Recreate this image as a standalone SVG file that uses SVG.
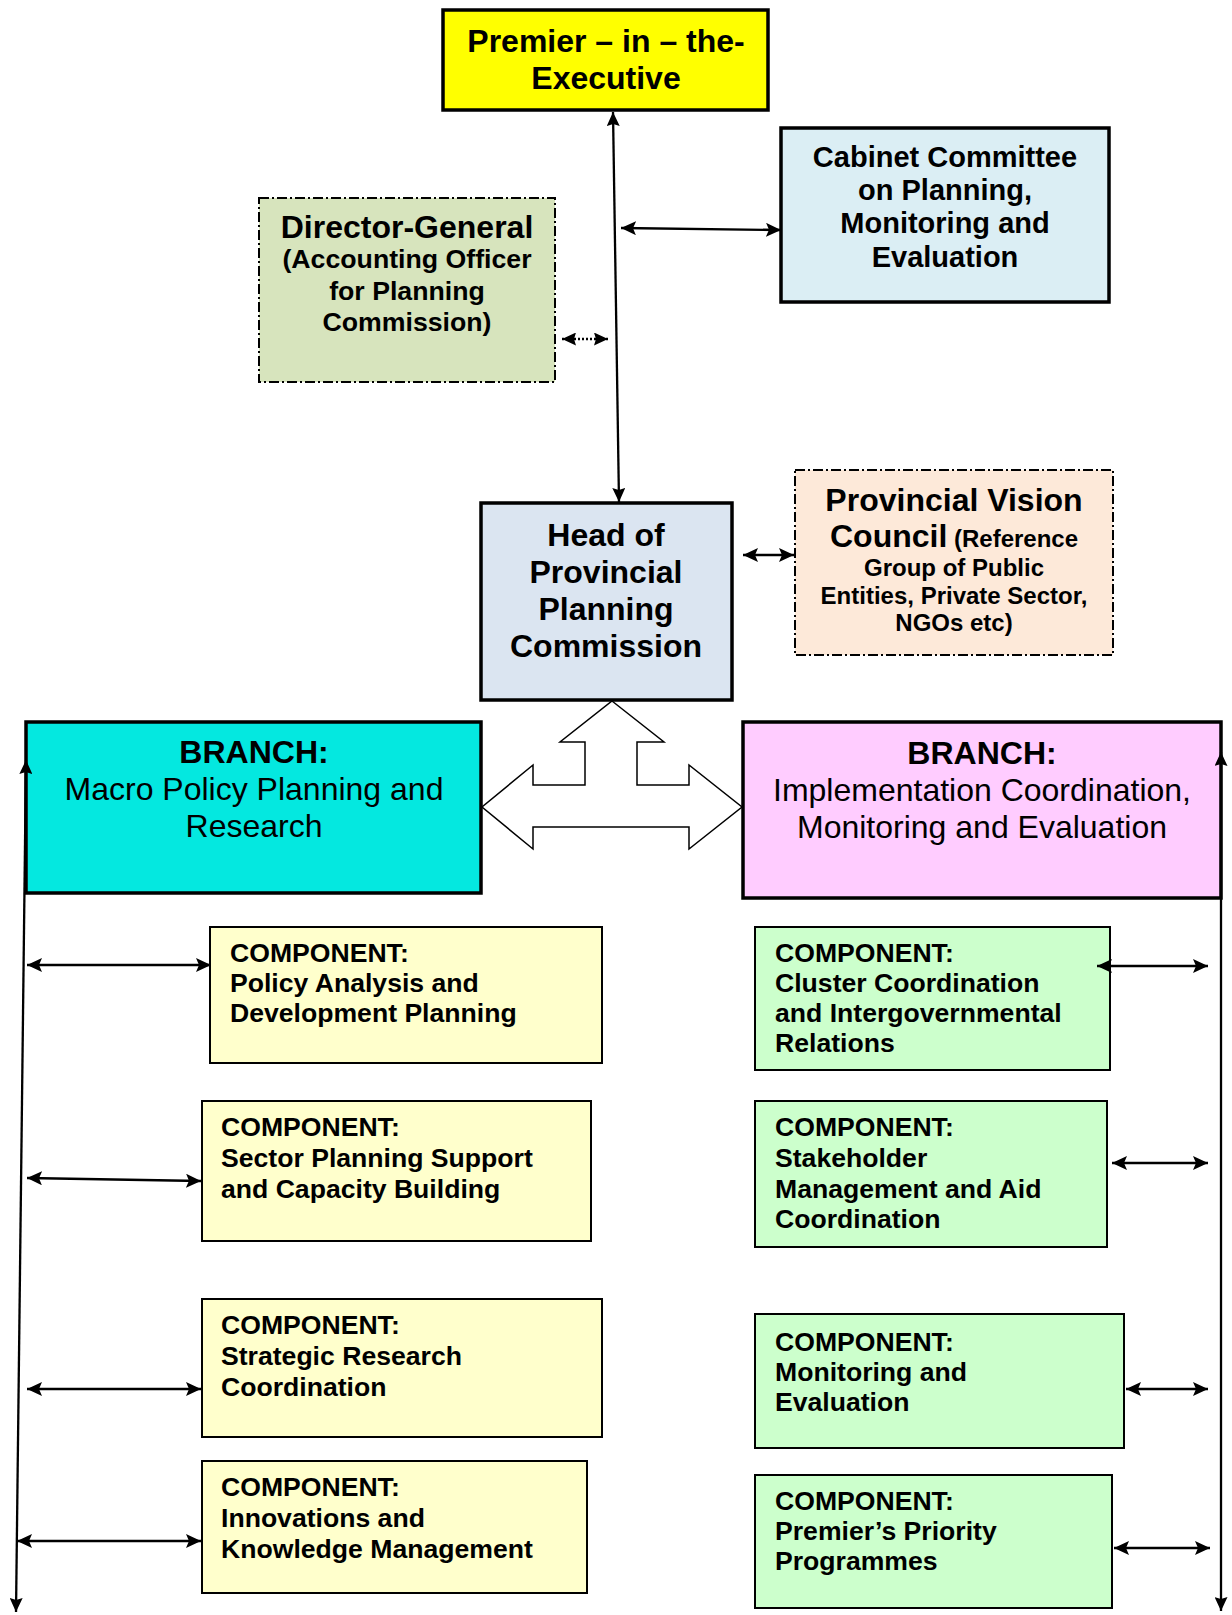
<svg xmlns="http://www.w3.org/2000/svg" width="1232" height="1615" viewBox="0 0 1232 1615">
  <style>
    .t { font-family: "Liberation Sans", Arial, sans-serif; fill: #000; }
    .b { font-weight: bold; }
    .c { text-anchor: middle; }
    .cp { font-family: "Liberation Sans", Arial, sans-serif; font-weight: bold; font-size: 26.6px; fill: #000; }
    .thick { stroke: #000; stroke-width: 3.5; }
    .thin { stroke: #000; stroke-width: 2; }
    .dash { stroke: #000; stroke-width: 2; stroke-dasharray: 10 3 2 3; }
    .ln { stroke: #000; stroke-width: 2.3; fill: none; }
  </style>
  <defs>
    <marker id="ah" viewBox="0 0 15 14" refX="15" refY="7" markerWidth="15" markerHeight="14" markerUnits="userSpaceOnUse" orient="auto-start-reverse">
      <path d="M0,0 L15,7 L0,14 L3,7 Z" fill="#000"/>
    </marker>
    <marker id="ahs" viewBox="0 0 14 13" refX="14" refY="6.5" markerWidth="14" markerHeight="13" markerUnits="userSpaceOnUse" orient="auto-start-reverse">
      <path d="M0,0 L14,6.5 L0,13 L2,6.5 Z" fill="#000"/>
    </marker>
  </defs>

  <rect width="1232" height="1615" fill="#fff"/>

  <!-- Top level -->
  <g id="premier">
    <rect x="443" y="10" width="325" height="100" fill="#ffff00" class="thick"/>
    <text class="t b c" font-size="32" x="606" y="52">Premier – in – the-</text>
    <text class="t b c" font-size="32" x="606" y="89">Executive</text>
  </g>

  <g id="cabinet">
    <rect x="781" y="128" width="328" height="174" fill="#dbeef4" class="thick"/>
    <text class="t b c" font-size="29" x="945" y="167">Cabinet Committee</text>
    <text class="t b c" font-size="29" x="945" y="200">on Planning,</text>
    <text class="t b c" font-size="29" x="945" y="233">Monitoring and</text>
    <text class="t b c" font-size="29" x="945" y="267">Evaluation</text>
  </g>

  <g id="director-general">
    <rect x="259" y="198" width="296" height="184" fill="#d7e4bd" class="dash"/>
    <text class="t b c" font-size="32" x="407" y="238">Director-General</text>
    <text class="t b c" font-size="26.7" x="407" y="268">(Accounting Officer</text>
    <text class="t b c" font-size="26.7" x="407" y="300">for Planning</text>
    <text class="t b c" font-size="26.7" x="407" y="331">Commission)</text>
  </g>

  <g id="head">
    <rect x="481" y="503" width="251" height="197" fill="#dbe5f1" class="thick"/>
    <text class="t b c" font-size="32" x="606" y="546">Head of</text>
    <text class="t b c" font-size="32" x="606" y="583">Provincial</text>
    <text class="t b c" font-size="32" x="606" y="620">Planning</text>
    <text class="t b c" font-size="32" x="606" y="657">Commission</text>
  </g>

  <g id="vision-council">
    <rect x="795" y="470" width="318" height="185" fill="#fde9d9" class="dash"/>
    <text class="t b c" font-size="32" x="954" y="511">Provincial Vision</text>
    <text class="t b c" x="954" y="547"><tspan font-size="32">Council</tspan><tspan font-size="24"> (Reference</tspan></text>
    <text class="t b c" font-size="24" x="954" y="576">Group of Public</text>
    <text class="t b c" font-size="24" x="954" y="604">Entities, Private Sector,</text>
    <text class="t b c" font-size="24" x="954" y="631">NGOs etc)</text>
  </g>

  <!-- Branches -->
  <g id="branch-macro">
    <rect x="26" y="722" width="455" height="171" fill="#04e8e0" class="thick"/>
    <text class="t b c" font-size="32" x="254" y="763">BRANCH:</text>
    <text class="t c" font-size="32" x="254" y="800">Macro Policy Planning and</text>
    <text class="t c" font-size="32" x="254" y="837">Research</text>
  </g>

  <g id="branch-implementation">
    <rect x="743" y="722" width="478" height="176" fill="#ffccff" class="thick"/>
    <text class="t b c" font-size="32" x="982" y="764">BRANCH:</text>
    <text class="t c" font-size="32" x="982" y="801">Implementation Coordination,</text>
    <text class="t c" font-size="32" x="982" y="838">Monitoring and Evaluation</text>
  </g>

  <!-- Components of the macro policy branch -->
  <g id="comp-policy-analysis">
    <rect x="210" y="927" width="392" height="136" fill="#ffffcc" class="thin"/>
    <text class="cp" x="230" y="962">COMPONENT:</text>
    <text class="cp" x="230" y="992">Policy Analysis and</text>
    <text class="cp" x="230" y="1022">Development Planning</text>
  </g>

  <g id="comp-sector-planning">
    <rect x="202" y="1101" width="389" height="140" fill="#ffffcc" class="thin"/>
    <text class="cp" x="221" y="1136">COMPONENT:</text>
    <text class="cp" x="221" y="1167">Sector Planning Support</text>
    <text class="cp" x="221" y="1198">and Capacity Building</text>
  </g>

  <g id="comp-strategic-research">
    <rect x="202" y="1299" width="400" height="138" fill="#ffffcc" class="thin"/>
    <text class="cp" x="221" y="1334">COMPONENT:</text>
    <text class="cp" x="221" y="1365">Strategic Research</text>
    <text class="cp" x="221" y="1396">Coordination</text>
  </g>

  <g id="comp-innovations">
    <rect x="202" y="1461" width="385" height="132" fill="#ffffcc" class="thin"/>
    <text class="cp" x="221" y="1496">COMPONENT:</text>
    <text class="cp" x="221" y="1527">Innovations and</text>
    <text class="cp" x="221" y="1558">Knowledge Management</text>
  </g>

  <!-- Components of the implementation branch -->
  <g id="comp-cluster">
    <rect x="755" y="927" width="355" height="143" fill="#ccffcc" class="thin"/>
    <text class="cp" x="775" y="962">COMPONENT:</text>
    <text class="cp" x="775" y="992">Cluster Coordination</text>
    <text class="cp" x="775" y="1022">and Intergovernmental</text>
    <text class="cp" x="775" y="1052">Relations</text>
  </g>

  <g id="comp-stakeholder">
    <rect x="755" y="1101" width="352" height="146" fill="#ccffcc" class="thin"/>
    <text class="cp" x="775" y="1136">COMPONENT:</text>
    <text class="cp" x="775" y="1167">Stakeholder</text>
    <text class="cp" x="775" y="1198">Management and Aid</text>
    <text class="cp" x="775" y="1228">Coordination</text>
  </g>

  <g id="comp-monitoring">
    <rect x="755" y="1314" width="369" height="134" fill="#ccffcc" class="thin"/>
    <text class="cp" x="775" y="1351">COMPONENT:</text>
    <text class="cp" x="775" y="1381">Monitoring and</text>
    <text class="cp" x="775" y="1411">Evaluation</text>
  </g>

  <g id="comp-priority">
    <rect x="755" y="1475" width="357" height="133" fill="#ccffcc" class="thin"/>
    <text class="cp" x="775" y="1510">COMPONENT:</text>
    <text class="cp" x="775" y="1540">Premier’s Priority</text>
    <text class="cp" x="775" y="1570">Programmes</text>
  </g>

  <!-- Connectors -->
  <g id="connectors">
    <line class="ln" x1="613" y1="112" x2="619" y2="502" stroke-width="2" marker-start="url(#ahs)" marker-end="url(#ahs)"/>
    <line class="ln" x1="621" y1="228" x2="781" y2="230" marker-start="url(#ah)" marker-end="url(#ah)"/>
    <line class="ln" x1="562" y1="339" x2="608" y2="339" stroke-dasharray="2 2" stroke-width="1.5" marker-start="url(#ahs)" marker-end="url(#ahs)"/>
    <line class="ln" x1="743" y1="555" x2="794" y2="555" marker-start="url(#ah)" marker-end="url(#ah)"/>

    <!-- three-way block arrow: head to both branches -->
    <path d="M612,701 L664,742 L637,742 L637,785 L689,785 L689,765 L742,807 L689,849 L689,827 L533,827 L533,849 L482,807 L533,765 L533,785 L585,785 L585,742 L560,742 Z" fill="#fff" stroke="#000" stroke-width="1.5" stroke-linejoin="miter"/>

    <!-- branch spines -->
    <line class="ln" x1="26" y1="760" x2="16" y2="1612" stroke-width="2" marker-start="url(#ahs)" marker-end="url(#ahs)"/>
    <line class="ln" x1="1221" y1="752" x2="1221" y2="1611" stroke-width="3" marker-start="url(#ahs)" marker-end="url(#ahs)"/>

    <!-- left spine to components -->
    <line class="ln" x1="27" y1="965" x2="211" y2="965" marker-start="url(#ah)" marker-end="url(#ah)"/>
    <line class="ln" x1="27" y1="1178" x2="201" y2="1181" marker-start="url(#ah)" marker-end="url(#ah)"/>
    <line class="ln" x1="27" y1="1389" x2="201" y2="1389" marker-start="url(#ah)" marker-end="url(#ah)"/>
    <line class="ln" x1="17" y1="1541" x2="201" y2="1541" marker-start="url(#ah)" marker-end="url(#ah)"/>

    <!-- components to right spine -->
    <line class="ln" x1="1097" y1="966" x2="1208" y2="966" marker-start="url(#ah)" marker-end="url(#ah)"/>
    <line class="ln" x1="1112" y1="1163" x2="1208" y2="1163" marker-start="url(#ah)" marker-end="url(#ah)"/>
    <line class="ln" x1="1126" y1="1389" x2="1208" y2="1389" marker-start="url(#ah)" marker-end="url(#ah)"/>
    <line class="ln" x1="1114" y1="1548" x2="1210" y2="1548" marker-start="url(#ah)" marker-end="url(#ah)"/>
  </g>
</svg>
